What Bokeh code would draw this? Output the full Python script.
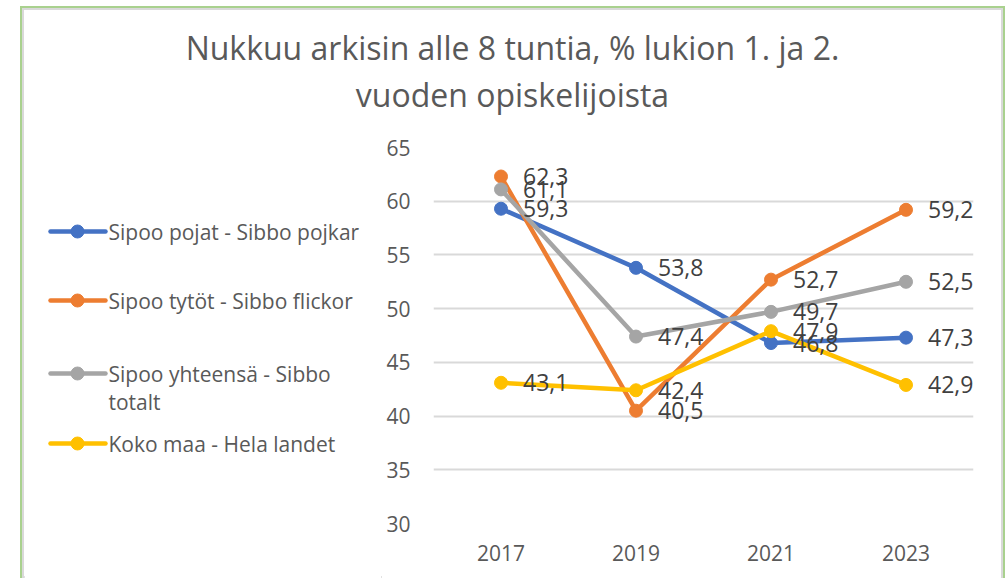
from bokeh.plotting import figure
from bokeh.models import (ColumnDataSource, FactorRange, Range1d, FixedTicker,
                          LabelSet, Spacer)
from bokeh.layouts import row, column
from bokeh.core.properties import value
from bokeh.embed import file_html
from bokeh.resources import INLINE

# ---------------- data ----------------
years = ["2017", "2019", "2021", "2023"]
pojat = [59.3, 53.8, 46.8, 47.3]
tytot = [62.3, 40.5, 52.7, 59.2]
yhteensa = [61.1, 47.4, 49.7, 52.5]
koko_maa = [43.1, 42.4, 47.9, 42.9]
series_names = ["Sipoo pojat - Sibbo pojkar", "Sipoo tytöt - Sibbo flickor",
                "Sipoo yhteensä - Sibbo\ntotalt", "Koko maa - Hela landet"]
y_ticks = [30, 35, 40, 45, 50, 55, 60, 65]
title_lines = ["Nukkuu arkisin alle 8 tuntia, % lukion 1. ja 2.", "vuoden opiskelijoista"]

colors = ["#4472C4", "#ED7D31", "#A5A5A5", "#FFC000"]
FONT = "Open Sans"
TXT = "#595959"


def blank_fig(w, h, xr, yr):
    f = figure(width=w, height=h, x_range=xr, y_range=yr,
               output_backend="svg", toolbar_location=None,
               x_axis_location=None, y_axis_location=None, min_border=0)
    f.grid.visible = False
    f.outline_line_color = None
    f.background_fill_color = "white"
    f.border_fill_color = "white"
    return f


# ---------------- title ----------------
TW, TH = 977, 116
tfig = blank_fig(TW, TH, Range1d(0, TW), Range1d(TH, 0))
tfig.text(x=[488, 488], y=[37, 84], text=title_lines, text_align="center", text_baseline="middle",
          text_font=value(FONT), text_font_size="32px", text_color=TXT)

# ---------------- legend ----------------
LW, LH = 357, 452
# ranges expressed in page pixels (frame is aligned with the main chart frame)
lfig = blank_fig(LW, LH, Range1d(24, 24 + LW), Range1d(523, 147))
leg_y = [231, 300, 373, 443]
for name, c, ly in zip(series_names, colors, leg_y):
    lfig.segment(x0=[50], y0=[ly], x1=[105], y1=[ly], line_color=c, line_width=4.5, line_cap="round")
    lfig.scatter(x=[77], y=[ly], size=13, fill_color=c, line_color=c, marker="circle")
    parts = name.split("\n")
    lfig.text(x=[108] * len(parts), y=[ly + i * 28 for i in range(len(parts))], text=parts,
              text_align="left", text_baseline="middle",
              text_font=value(FONT), text_font_size="21px", text_color=TXT)

# ---------------- main chart ----------------
MW, MH = 620, 452
p = figure(width=MW, height=MH,
           x_range=FactorRange(*years, range_padding=0),
           y_range=Range1d(30, 65),
           output_backend="svg", toolbar_location=None,
           min_border_left=52, min_border_right=28,
           min_border_top=21, min_border_bottom=55)
p.outline_line_color = None
p.background_fill_color = "white"
p.border_fill_color = "white"
p.xgrid.grid_line_color = None
p.ygrid.grid_line_color = "#D9D9D9"
p.ygrid.grid_line_width = 2
p.yaxis.ticker = FixedTicker(ticks=y_ticks)
for ax in (p.xaxis, p.yaxis):
    ax.axis_line_color = None
    ax.major_tick_line_color = None
    ax.minor_tick_line_color = None
    ax.major_label_text_color = TXT
    ax.major_label_text_font = FONT
    ax.major_label_text_font_size = "21px"
p.yaxis.major_label_standoff = 17
p.xaxis.major_label_standoff = 15

all_series = [pojat, tytot, yhteensa, koko_maa]
for vals, c in zip(all_series, colors):
    src = ColumnDataSource(dict(x=years, y=vals))
    p.line("x", "y", source=src, line_color=c, line_width=4.5, line_join="round", line_cap="round")
    p.scatter("x", "y", source=src, size=13, fill_color=c, line_color=c, marker="circle")

for vals in all_series:
    src = ColumnDataSource(dict(x=years, y=vals, t=[f"{v:.1f}".replace(".", ",") for v in vals]))
    p.add_layout(LabelSet(x="x", y="y", text="t", source=src, x_offset=22, y_offset=0,
                          text_align="left", text_baseline="middle",
                          text_font=value(FONT), text_font_size="23px", text_color="#404040"))

box = column(tfig, row(lfig, p), spacing=0,
             styles={"border-top": "2px solid #A9D18E",
                     "border-left": "2px solid #A9D18E",
                     "border-right": "2px solid #A9D18E",
                     "padding": "2px 2px 0 2px",
                     "background-color": "white",
                     "box-shadow": "inset 0 0 0 2px #D9D9D9"})
layout = column(Spacer(height=6), row(Spacer(width=20), box))
open("out.html", "w").write(file_html(layout, INLINE))
